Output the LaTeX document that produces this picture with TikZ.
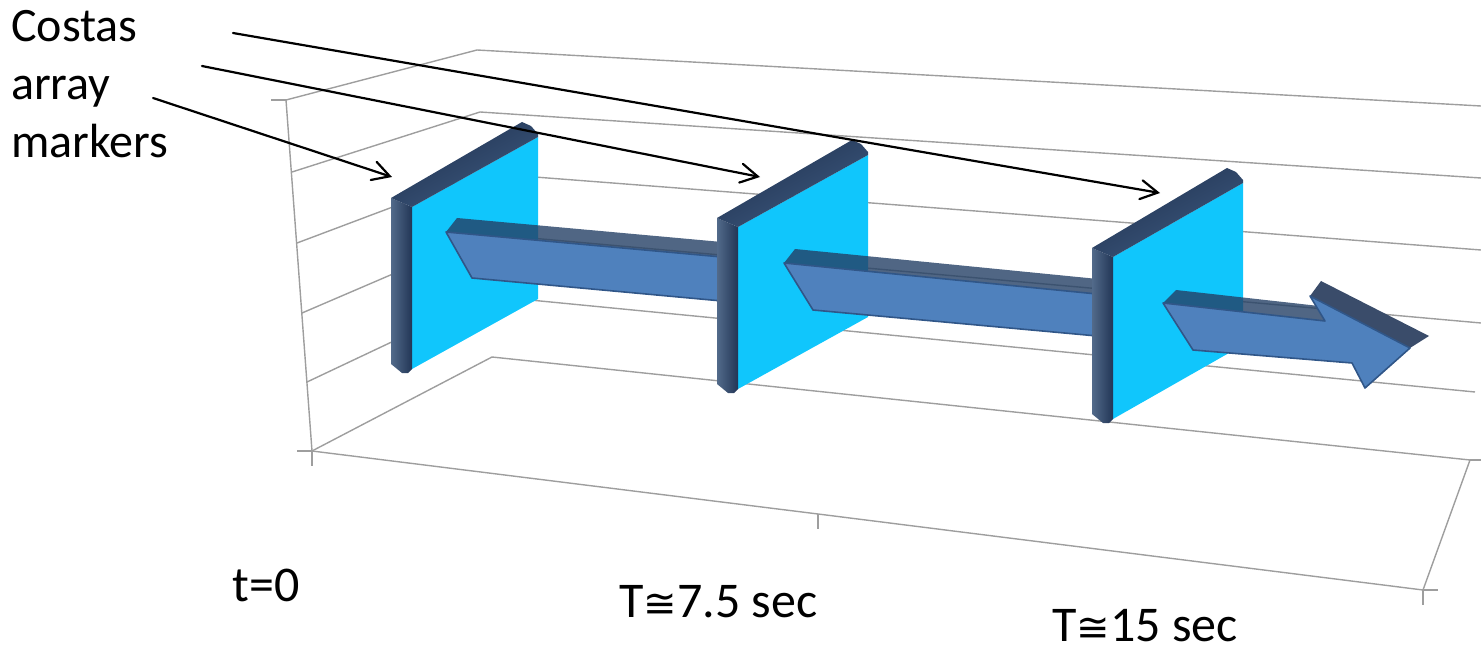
\documentclass[tikz,border=0pt]{standalone}
\usepackage{fontspec}
\setmainfont{Carlito}
\newfontfamily\symfont{DejaVu Sans}[Scale=0.8]
\usetikzlibrary{arrows.meta}

\definecolor{markerface}{RGB}{16,198,252}
\definecolor{edgelight}{RGB}{82,106,138}
\definecolor{edgedark}{RGB}{34,54,86}
\definecolor{rimdark}{RGB}{32,50,80}
\definecolor{rimlight}{RGB}{62,90,128}
\definecolor{arrowface}{RGB}{79,129,189}
\definecolor{arrowedge}{RGB}{48,86,136}
\definecolor{arrowtop}{RGB}{36,64,101}
\definecolor{headtop}{RGB}{58,76,106}
\definecolor{gridgray}{RGB}{158,158,158}

\tikzset{
  wallline/.style={draw=gridgray, line width=1.4pt},
  callout/.style={draw=black, line width=2.2pt, line cap=round,
    -{Straight Barb[length=17pt,width=19pt,line cap=round]}},
  arrowbody/.style={fill=arrowface, draw=arrowedge, line width=1.6pt, line join=round},
  arrowrim/.style={fill=arrowtop, fill opacity=0.8, draw=none},
  labeltext/.style={inner sep=0pt, font=\fontsize{50pt}{60pt}\selectfont},
  % thin slab marker: face top-left at the pic origin; #1 = width, #2 = rise of the right edge
  pics/slab/.style args={#1/#2}{code={
    \fill[markerface] (0,0) -- (#1,#2) -- (#1,#2+162) -- (0,162) -- cycle;
    \shade[left color=edgelight, right color=edgedark]
      (-21,-9) -- (0,0) -- (0,162) -- (-4,166) -- (-10,166) -- (-21,157) -- cycle;
    \shade[top color=rimdark, bottom color=rimlight, shading angle=29]
      (-21,-9) -- (#1-16,#2-15) -- (#1-7,#2-11) -- (#1,#2-3) -- (#1,#2) -- (0,0) -- cycle;
  }}
}

\begin{document}
\begin{tikzpicture}[x=1pt,y=-1pt]
\useasboundingbox (0,0) rectangle (1481,652);

% ---- chart frame: side wall, back wall and floor ----
\coordinate (L0) at (286,100); \coordinate (B0) at (477,50);  \coordinate (R0) at (1481,106);
\coordinate (L1) at (292,172); \coordinate (B1) at (480,112); \coordinate (R1) at (1481,178);
\coordinate (L2) at (297,243); \coordinate (B2) at (483,173); \coordinate (R2) at (1481,250);
\coordinate (L3) at (302,313); \coordinate (B3) at (486,234); \coordinate (R3) at (1481,323);
\coordinate (L4) at (307,382); \coordinate (B4) at (489,296); \coordinate (R4) at (1475,392);
\coordinate (L5) at (312,451); \coordinate (B5) at (492,357); \coordinate (R5) at (1470,460);
\coordinate (F5) at (1423,590);
\coordinate (tickmid) at (818,514);

\foreach \i in {0,...,5} {
  \draw[wallline] (L\i) -- (B\i) -- (R\i);
}
\draw[wallline] (L0) -- (L5);
\draw[wallline] (L5) -- (tickmid) -- (F5) -- (R5);
% axis ticks
\draw[wallline] (L0) -- ++(-15,0);
\draw[wallline] (L5) -- ++(-15,0);
\draw[wallline] (L5) -- ++(0,15);
\draw[wallline] (tickmid) -- ++(0,15);
\draw[wallline] (F5) -- ++(15,0);
\draw[wallline] (F5) -- ++(0,15);
\draw[wallline] (R5) -- ++(11,0);

% ---- first marker and the arrow leaving it ----
\pic (m1) at (412,207) {slab=126/-70};
\fill[arrowrim] (446,232) -- (457,218) -- (733,243) -- (722,257) -- cycle;
\filldraw[arrowbody] (446,232) -- (722,257) -- (722,301) -- (472,278) -- cycle;

% ---- second marker and its arrow ----
\pic (m2) at (738,227) {slab=130/-72};
\fill[arrowrim] (784,263) -- (795,249) -- (1108,280) -- (1097,294) -- cycle;
\filldraw[arrowbody] (784,263) -- (1097,294) -- (1097,336) -- (813,310) -- cycle;

% ---- third marker and the arrow with its head ----
\pic (m3) at (1113,257) {slab=130/-74};
\fill[arrowrim] (1163,303) -- (1176,290) -- (1337,308) -- (1325,321) -- cycle;
\fill[headtop] (1310,296) -- (1321,281) -- (1429,336) -- (1410,348) -- cycle;
\filldraw[arrowbody] (1163,303) -- (1325,321) -- (1310,296) -- (1410,348)
  -- (1365,388) -- (1352,363) -- (1193,350) -- cycle;

% ---- callouts ----
\node[anchor=north west, inner sep=0pt, align=left,
      font=\fontsize{48pt}{58pt}\selectfont] (cap) at (11,10)
  {Costas\\array\\markers};
\coordinate (c1s) at (153,98);  \coordinate (c1e) at (392,177);
\coordinate (c2s) at (202,66);  \coordinate (c2e) at (760,177);
\coordinate (c3s) at (233,33);  \coordinate (c3e) at (1160,193);
\draw[callout] (c1s) -- (c1e);
\draw[callout] (c2s) -- (c2e);
\draw[callout] (c3s) -- (c3e);

% ---- time labels ----
\node[labeltext, anchor=base east] (t0) at (300,601) {t=0};
\node[labeltext, anchor=base west] (t1) at (619,617) {T{\symfont ≅}7.5 sec};
\node[labeltext, anchor=base west] (t2) at (1052,641) {T{\symfont ≅}15 sec};
\end{tikzpicture}
\end{document}
